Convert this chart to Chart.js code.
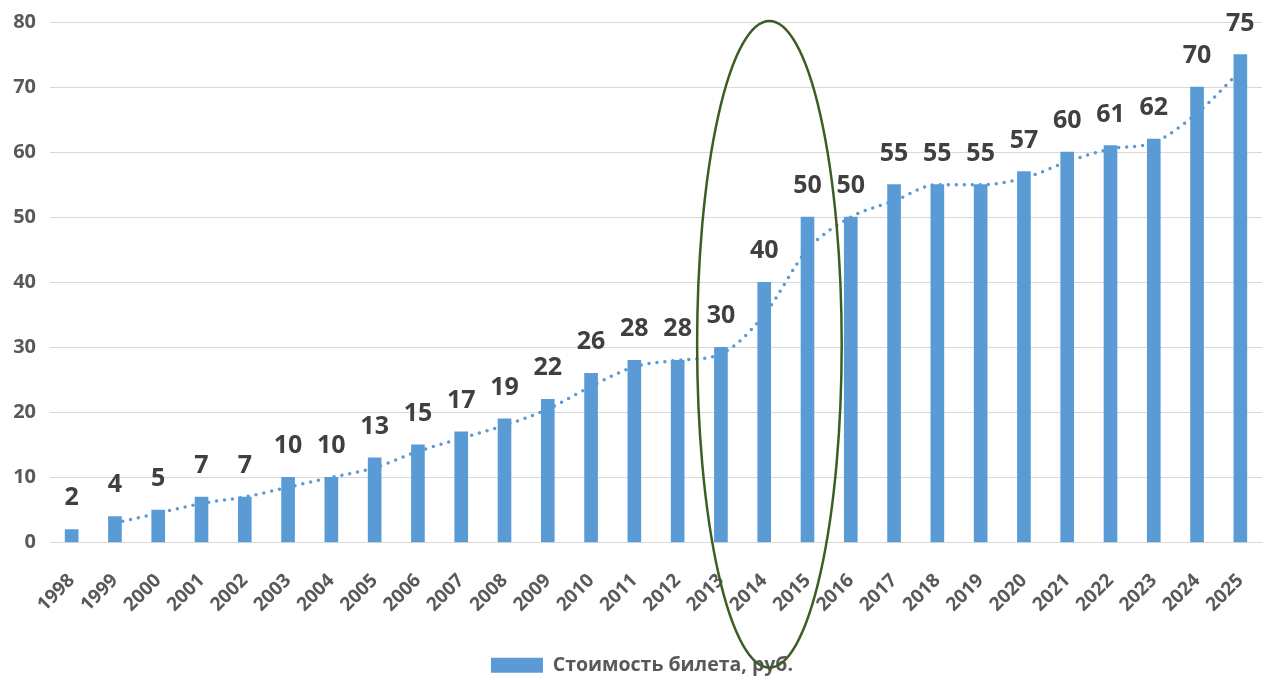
<!DOCTYPE html>
<html>
<head>
<meta charset="utf-8">
<script src="https://cdn.jsdelivr.net/npm/chart.js@4/dist/chart.umd.min.js"></script>
<style>
  html, body { margin: 0; padding: 0; background: #ffffff; }
  #wrap { width: 1269px; height: 680px; position: relative; }
</style>
</head>
<body>
<div id="wrap"><canvas id="c"></canvas></div>
<script>
// Fare per trip, by year
const years = ['1998','1999','2000','2001','2002','2003','2004','2005','2006','2007','2008','2009','2010','2011','2012','2013','2014','2015','2016','2017','2018','2019','2020','2021','2022','2023','2024','2025'];
const fares = [2, 4, 5, 7, 7, 10, 10, 13, 15, 17, 19, 22, 26, 28, 28, 30, 40, 50, 50, 55, 55, 55, 57, 60, 61, 62, 70, 75];
// Two-period moving trend (dotted line)
const trend = [null, 3, 4.5, 6, 7, 8.5, 10, 11.5, 14, 16, 18, 20.5, 24, 27, 28, 29, 35, 45, 50, 52.5, 55, 55, 56, 58.5, 60.5, 61.5, 66, 72.5];
const yTicks = [0, 10, 20, 30, 40, 50, 60, 70, 80];
const seriesName = 'Стоимость билета, руб.';
const ringYear = '2014';

const FONT = "'Open Sans', 'Liberation Sans', sans-serif";
const BLUE = '#5B9BD5';

// Value labels above each bar
const barLabels = {
  id: 'barLabels',
  afterDatasetsDraw(chart) {
    const meta = chart.getDatasetMeta(0);
    const ctx = chart.ctx;
    ctx.save();
    ctx.font = 'bold 25px ' + FONT;
    ctx.fillStyle = '#404040';
    ctx.textAlign = 'center';
    ctx.textBaseline = 'alphabetic';
    meta.data.forEach((bar, i) => {
      ctx.fillText(String(fares[i]), bar.x, bar.y - 24);
    });
    ctx.restore();
  }
};

// Highlight ring around 2014–2015
const highlight = {
  id: 'highlight',
  afterDraw(chart) {
    const x = chart.scales.x, y = chart.scales.y;
    const idx = years.indexOf(ringYear);
    const step = x.getPixelForValue(1) - x.getPixelForValue(0);
    const cx = x.getPixelForValue(idx) + step * 0.12;
    const top = y.getPixelForValue(80) - 1;
    const bottom = y.getPixelForValue(0) + 125;
    const ctx = chart.ctx;
    ctx.save();
    ctx.strokeStyle = '#3B5E22';
    ctx.lineWidth = 2.5;
    ctx.beginPath();
    ctx.ellipse(cx, (top + bottom) / 2, step * 1.67, (bottom - top) / 2, 0, 0, Math.PI * 2);
    ctx.stroke();
    ctx.restore();
  }
};

// Nudge the legend slightly right and down
const legendNudge = {
  id: 'legendNudge',
  afterLayout(chart) {
    const lg = chart.legend;
    if (!lg) return;
    lg.left += 11; lg.right += 11;
    lg.top += 5; lg.bottom += 5;
  }
};

new Chart(document.getElementById('c'), {
  data: {
    labels: years,
    datasets: [
      {
        type: 'bar',
        label: seriesName,
        data: fares,
        backgroundColor: BLUE,
        barThickness: 13,
        order: 2
      },
      {
        type: 'line',
        label: 'trend',
        data: trend,
        borderColor: BLUE,
        borderWidth: 3.5,
        borderDash: [0, 8],
        borderCapStyle: 'round',
        pointRadius: 0,
        fill: false,
        cubicInterpolationMode: 'monotone',
        spanGaps: false,
        order: 1
      }
    ]
  },
  options: {
    responsive: true,
    maintainAspectRatio: false,
    animation: false,
    layout: { padding: { top: 22, right: 7, left: 0, bottom: 0 } },
    plugins: {
      tooltip: { enabled: false },
      legend: {
        position: 'bottom',
        labels: {
          filter: (item) => item.datasetIndex === 0,
          boxWidth: 52,
          boxHeight: 15,
          color: '#595959',
          font: { family: FONT, size: 19.5, weight: 'bold' },
          padding: 10
        }
      }
    },
    scales: {
      x: {
        grid: { display: false, drawTicks: false },
        border: { display: true, color: '#d9d9d9', width: 1 },
        ticks: {
          color: '#595959',
          font: { family: FONT, size: 19, weight: 'bold' },
          maxRotation: 45,
          minRotation: 45,
          autoSkip: false,
          padding: 27
        },
        afterFit(s) { s.height = 98; s.paddingLeft = 0; s.paddingRight = 0; }
      },
      y: {
        min: 0,
        max: 80,
        afterBuildTicks(s) { s.ticks = yTicks.map(v => ({ value: v })); },
        grid: { color: '#d9d9d9', lineWidth: 1, drawTicks: false },
        border: { display: false },
        ticks: {
          color: '#595959',
          font: { family: FONT, size: 20, weight: 'bold' },
          padding: 14
        },
        afterFit(s) { s.width = 50; s.paddingTop = 0; s.paddingBottom = 0; }
      }
    }
  },
  plugins: [barLabels, highlight, legendNudge]
});
</script>
</body>
</html>
